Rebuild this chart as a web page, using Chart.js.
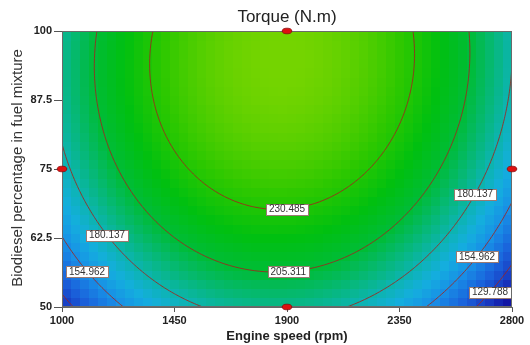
<!DOCTYPE html>
<html>
<head>
<meta charset="utf-8">
<script src="https://cdn.jsdelivr.net/npm/chart.js@4.4.1/dist/chart.umd.min.js"></script>
<style>
  html, body { margin: 0; padding: 0; background: #fff; }
</style>
</head>
<body>
<canvas id="torqueChart" width="530" height="345"></canvas>
<script>
// axis ticks
const speedTicks = [1000, 1450, 1900, 2350, 2800];
const blendTicks = [50, 62.5, 75, 87.5, 100];

// fitted quadratic in coded factors: [b0, A, B, A^2, B^2, AB]
// A = engine speed, B = biodiesel %
const torqueModel = [242.0, -5.2, 33.6, -72.0, -21.1, 2.6];

// contour levels and where their labels sit along the speed axis
const contourLevels = [129.788, 154.962, 180.137, 205.311, 230.485];
const labelLevels = [230.485, 205.311, 180.137, 180.137, 154.962, 154.962, 129.788];
const labelSpeeds = [1900, 1905, 1180, 2652, 1100, 2660, 2712];

// design points shown on the edges
const designSpeed = [1900, 1000, 2800, 1900];
const designBlend = [100, 75, 75, 50];

// colour ramp (torque value -> colour)
const rampValues = [100, 115, 125, 140, 155, 168, 180, 192, 205, 220, 235, 255];
const rampColors = ['#08088a', '#1218a8', '#1838c0', '#1a64dc', '#1890e6', '#14aede',
                    '#0cb4b0', '#06b878', '#00bc38', '#00c010', '#2cc800', '#74d400'];

const SPEED_MIN = 1000, SPEED_MAX = 2800, BLEND_MIN = 50, BLEND_MAX = 100;

function torque(rpm, pct) {
  const a = (rpm - 1900) / 900;
  const b = (pct - 75) / 25;
  const [b0, bA, bB, bAA, bBB, bAB] = torqueModel;
  return b0 + bA * a + bB * b + bAA * a * a + bBB * b * b + bAB * a * b;
}

function hexToRgb(h) {
  const n = parseInt(h.slice(1), 16);
  return [(n >> 16) & 255, (n >> 8) & 255, n & 255];
}
const rampRgb = rampColors.map(hexToRgb);

function colourFor(t) {
  if (t <= rampValues[0]) return rampColors[0];
  for (let i = 1; i < rampValues.length; i++) {
    if (t <= rampValues[i]) {
      const f = (t - rampValues[i - 1]) / (rampValues[i] - rampValues[i - 1]);
      const c0 = rampRgb[i - 1], c1 = rampRgb[i];
      const c = c0.map((v, k) => Math.round(v + (c1[k] - v) * f));
      return `rgb(${c[0]},${c[1]},${c[2]})`;
    }
  }
  return rampColors[rampColors.length - 1];
}

// lowest biodiesel % where the surface crosses a level at a given speed
function blendAtLevel(rpm, level) {
  let lo = BLEND_MIN, step = 0.5;
  let prev = torque(rpm, lo) - level;
  for (let p = lo + step; p <= BLEND_MAX; p += step) {
    const cur = torque(rpm, p) - level;
    if (prev * cur <= 0) {
      let a = p - step, b = p;
      for (let k = 0; k < 30; k++) {
        const m = (a + b) / 2;
        if ((torque(rpm, a) - level) * (torque(rpm, m) - level) <= 0) b = m; else a = m;
      }
      return (a + b) / 2;
    }
    prev = cur;
  }
  return null;
}

// marching squares over a fine grid, returns segments in data units
function contourSegments(level, nx, ny) {
  const xs = [], ys = [];
  for (let i = 0; i <= nx; i++) xs.push(SPEED_MIN + (SPEED_MAX - SPEED_MIN) * i / nx);
  for (let j = 0; j <= ny; j++) ys.push(BLEND_MIN + (BLEND_MAX - BLEND_MIN) * j / ny);
  const g = ys.map(yv => xs.map(xv => torque(xv, yv)));
  const segs = [];
  const cross = (x0, y0, v0, x1, y1, v1) => {
    const f = (level - v0) / (v1 - v0);
    return [x0 + (x1 - x0) * f, y0 + (y1 - y0) * f];
  };
  for (let j = 0; j < ny; j++) {
    for (let i = 0; i < nx; i++) {
      const c = [
        [xs[i], ys[j], g[j][i]],
        [xs[i + 1], ys[j], g[j][i + 1]],
        [xs[i + 1], ys[j + 1], g[j + 1][i + 1]],
        [xs[i], ys[j + 1], g[j + 1][i]]
      ];
      const pts = [];
      for (let e = 0; e < 4; e++) {
        const p = c[e], q = c[(e + 1) % 4];
        if ((p[2] - level) * (q[2] - level) < 0) pts.push(cross(p[0], p[1], p[2], q[0], q[1], q[2]));
      }
      if (pts.length >= 2) segs.push([pts[0], pts[1]]);
      if (pts.length === 4) segs.push([pts[2], pts[3]]);
    }
  }
  return segs;
}

const surfacePlugin = {
  id: 'surface',
  beforeDatasetsDraw(chart) {
    const { ctx, chartArea: ca, scales: { x, y } } = chart;
    ctx.save();
    ctx.beginPath();
    ctx.rect(ca.left, ca.top, ca.right - ca.left, ca.bottom - ca.top);
    ctx.clip();

    // coloured cells
    const nx = 50, ny = 30;
    for (let i = 0; i < nx; i++) {
      const s0 = SPEED_MIN + (SPEED_MAX - SPEED_MIN) * i / nx;
      const s1 = SPEED_MIN + (SPEED_MAX - SPEED_MIN) * (i + 1) / nx;
      const px0 = Math.floor(x.getPixelForValue(s0));
      const px1 = Math.ceil(x.getPixelForValue(s1));
      for (let j = 0; j < ny; j++) {
        const b0 = BLEND_MIN + (BLEND_MAX - BLEND_MIN) * j / ny;
        const b1 = BLEND_MIN + (BLEND_MAX - BLEND_MIN) * (j + 1) / ny;
        const py0 = Math.floor(y.getPixelForValue(b1));
        const py1 = Math.ceil(y.getPixelForValue(b0));
        ctx.fillStyle = colourFor(torque((s0 + s1) / 2, (b0 + b1) / 2));
        ctx.fillRect(px0, py0, px1 - px0, py1 - py0);
      }
    }

    // contour lines
    ctx.strokeStyle = 'rgba(160,36,28,0.85)';
    ctx.lineWidth = 1;
    contourLevels.forEach(level => {
      ctx.beginPath();
      contourSegments(level, 180, 110).forEach(([p, q]) => {
        ctx.moveTo(x.getPixelForValue(p[0]), y.getPixelForValue(p[1]));
        ctx.lineTo(x.getPixelForValue(q[0]), y.getPixelForValue(q[1]));
      });
      ctx.stroke();
    });

    // contour labels
    ctx.font = '10px Arial, "Liberation Sans", sans-serif';
    ctx.textAlign = 'center';
    ctx.textBaseline = 'middle';
    labelLevels.forEach((level, k) => {
      const rpm = labelSpeeds[k];
      const pct = blendAtLevel(rpm, level);
      if (pct === null) return;
      const px = x.getPixelForValue(rpm), py = y.getPixelForValue(pct);
      const txt = level.toFixed(3);
      const w = ctx.measureText(txt).width + 6, h = 11;
      ctx.fillStyle = '#fff';
      ctx.fillRect(Math.round(px - w / 2) + 0.5, Math.round(py - h / 2) + 0.5, Math.round(w), h);
      ctx.strokeStyle = '#9a7a72';
      ctx.strokeRect(Math.round(px - w / 2) + 0.5, Math.round(py - h / 2) + 0.5, Math.round(w), h);
      ctx.fillStyle = '#333';
      ctx.fillText(txt, px, py + 0.5);
    });
    ctx.restore();

    // plot frame
    ctx.save();
    ctx.strokeStyle = '#6a6a6a';
    ctx.lineWidth = 1;
    ctx.strokeRect(Math.round(ca.left) + 0.5, Math.round(ca.top) + 0.5,
                   Math.round(ca.right - ca.left) - 1, Math.round(ca.bottom - ca.top) - 1);
    ctx.restore();
  },
  afterDraw(chart) {
    const { ctx, chartArea: ca } = chart;
    const cx = (ca.left + ca.right) / 2;
    ctx.save();
    ctx.fillStyle = '#222';
    ctx.textAlign = 'center';
    ctx.textBaseline = 'middle';
    ctx.font = '17px Arial, "Liberation Sans", sans-serif';
    ctx.fillText('Torque (N.m)', cx, 17);
    ctx.font = 'bold 13px Arial, "Liberation Sans", sans-serif';
    ctx.fillText('Engine speed (rpm)', cx, 336);
    ctx.translate(18, (ca.top + ca.bottom) / 2 - 1);
    ctx.rotate(-Math.PI / 2);
    ctx.font = '15px Arial, "Liberation Sans", sans-serif';
    ctx.fillStyle = '#333';
    ctx.fillText('Biodiesel percentage in fuel mixture', 0, 0);
    ctx.restore();
  }
};

// red elliptical marker for the design points
const dot = document.createElement('canvas');
dot.width = 12; dot.height = 8;
(function () {
  const c = dot.getContext('2d');
  c.fillStyle = '#dd1111';
  c.strokeStyle = '#8a0a0a';
  c.lineWidth = 0.8;
  c.beginPath();
  c.ellipse(6, 4, 4.8, 2.8, 0, 0, Math.PI * 2);
  c.fill();
  c.stroke();
})();

Chart.defaults.font.family = 'Arial, "Liberation Sans", sans-serif';

const tickFont = { size: 11, weight: 'bold' };

new Chart(document.getElementById('torqueChart'), {
  type: 'scatter',
  data: {
    datasets: [{
      label: 'Design points',
      data: designSpeed.map((s, i) => ({ x: s, y: designBlend[i] })),
      pointStyle: dot,
      clip: false
    }]
  },
  options: {
    responsive: false,
    animation: false,
    devicePixelRatio: 1,
    layout: { padding: { top: 31, right: 18, bottom: 0, left: 0 } },
    plugins: { legend: { display: false }, tooltip: { enabled: false }, title: { display: false } },
    scales: {
      x: {
        type: 'linear',
        min: SPEED_MIN,
        max: SPEED_MAX,
        afterBuildTicks: s => { s.ticks = speedTicks.map(v => ({ value: v })); },
        afterFit: s => { s.height = 38; },
        grid: { drawOnChartArea: false, drawTicks: true, tickLength: 5, color: '#555' },
        border: { display: true, color: '#666' },
        ticks: { font: tickFont, color: '#222', padding: 2, maxRotation: 0, callback: v => v }
      },
      y: {
        type: 'linear',
        min: BLEND_MIN,
        max: BLEND_MAX,
        afterBuildTicks: s => { s.ticks = blendTicks.map(v => ({ value: v })); },
        afterFit: s => { s.width = 62; },
        grid: { drawOnChartArea: false, drawTicks: true, tickLength: 8, color: '#555' },
        border: { display: true, color: '#666' },
        ticks: { font: tickFont, color: '#222', padding: 2, callback: v => v }
      }
    }
  },
  plugins: [surfacePlugin]
});
</script>
</body>
</html>
